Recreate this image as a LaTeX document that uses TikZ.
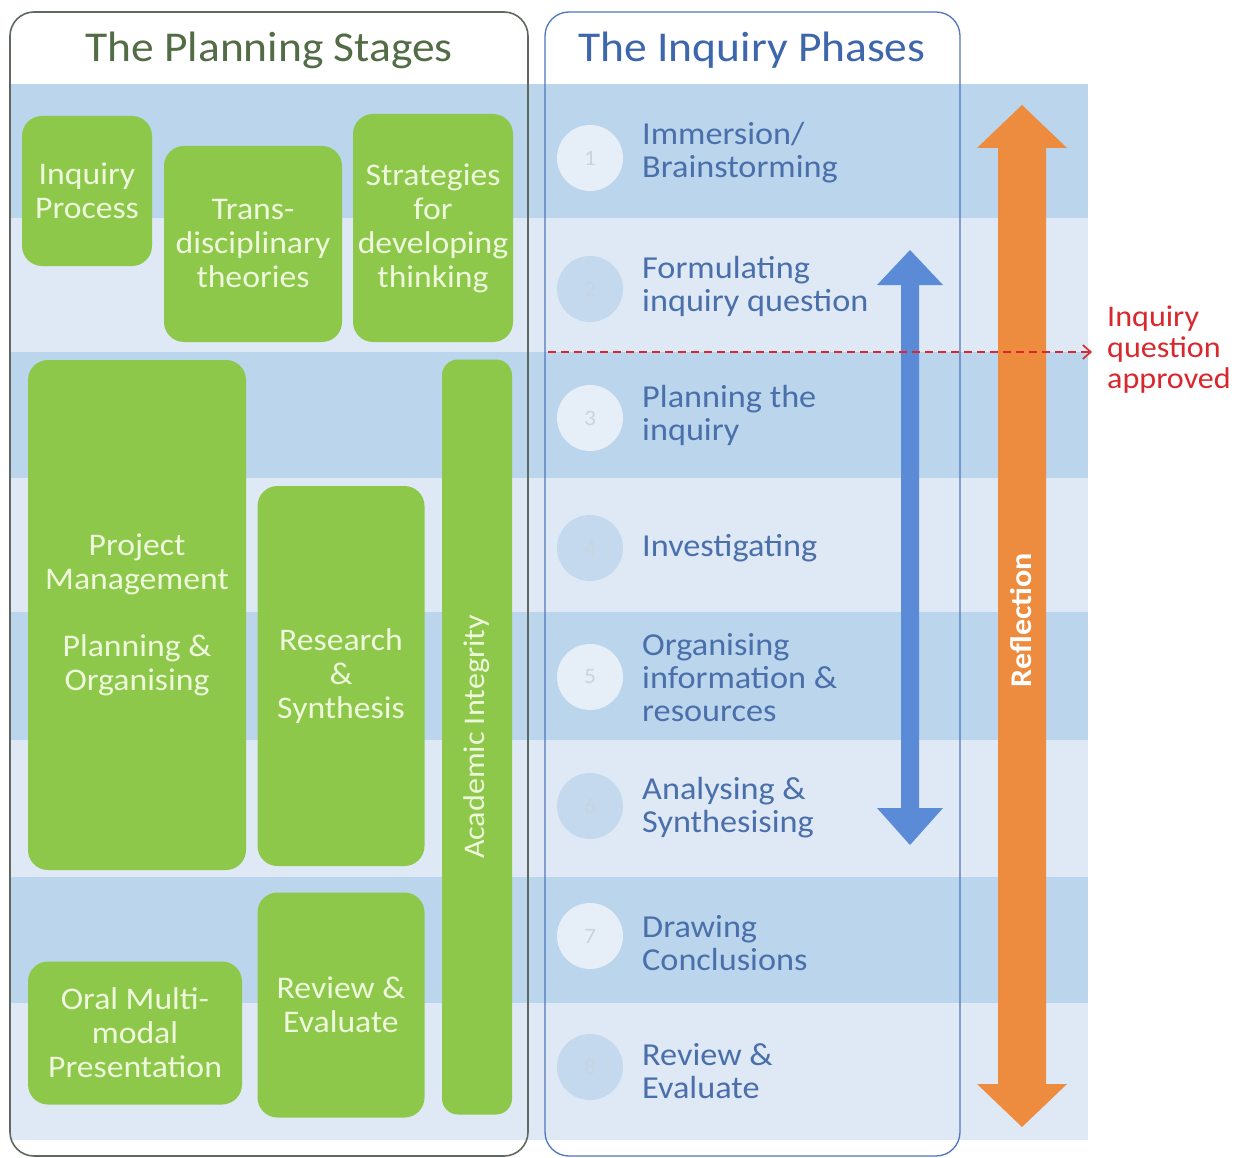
\documentclass[tikz,border=0pt]{standalone}
\usepackage{fontspec}
\setmainfont{Carlito}[FakeStretch=1.07]
\usetikzlibrary{arrows.meta}
\definecolor{gfill}{RGB}{141,200,74}
\definecolor{gtext}{RGB}{238,248,220}
\definecolor{banddark}{RGB}{186,213,236}
\definecolor{bandlight}{RGB}{222,233,245}
\definecolor{phasetext}{RGB}{74,111,170}
\definecolor{titleg}{RGB}{82,108,70}
\definecolor{titleb}{RGB}{62,102,172}
\definecolor{borderg}{RGB}{95,105,95}
\definecolor{borderb}{RGB}{80,118,186}
\definecolor{circlight}{RGB}{230,238,247}
\definecolor{circdark}{RGB}{196,217,238}
\definecolor{numtext}{RGB}{200,212,224}
\definecolor{arrowblue}{RGB}{91,139,214}
\definecolor{arroworange}{RGB}{237,139,63}
\definecolor{redline}{RGB}{217,39,46}
\tikzset{
  gbox/.style={fill=gfill, rounded corners=20pt, align=center, text=gtext,
    font=\fontsize{31.5}{34}\selectfont, inner sep=0pt},
  phase/.style={anchor=west, align=left, text=phasetext,
    font=\fontsize{32}{33}\selectfont, inner sep=0pt},
  numcirc/.style={circle, minimum size=66pt, inner sep=0pt, text=numtext,
    font=\fontsize{22}{24}\selectfont},
  panel/.style={rounded corners=24pt, line width=1.6pt},
}
\begin{document}
\begin{tikzpicture}[x=1pt,y=-1pt]
\useasboundingbox (0,0) rectangle (1241,1158);
\fill[white] (0,0) rectangle (1241,1158);
% bands
\fill[banddark]  (10,84)   rectangle (1088,218);
\fill[bandlight] (10,218)  rectangle (1088,352);
\fill[banddark]  (10,352)  rectangle (1088,478);
\fill[bandlight] (10,478)  rectangle (1088,612);
\fill[banddark]  (10,612)  rectangle (1088,740);
\fill[bandlight] (10,740)  rectangle (1088,877);
\fill[banddark]  (10,877)  rectangle (1088,1003);
\fill[bandlight] (10,1003) rectangle (1088,1140);
% panels
\draw[panel, borderg] (10,12) rectangle (528,1156);
\draw[panel, borderb, line width=1.3pt] (545,12) rectangle (960,1156);
\node[text=titleg, font=\fontsize{42.5}{46}\selectfont] (tleft) at (269,50) {The Planning Stages};
\node[text=titleb, font=\fontsize{42.5}{46}\selectfont] (tright) at (752,50) {The Inquiry Phases};
% green boxes
\node[gbox, minimum width=130pt, minimum height=150pt] (ip) at (87,191) {Inquiry\\Process};
\node[gbox, minimum width=178pt, minimum height=196pt] (td) at (253,244) {Trans-\\disciplinary\\theories};
\node[gbox, minimum width=160pt, minimum height=228pt] (sd) at (433,228) {Strategies\\for\\developing\\thinking};
\node[gbox, minimum width=218pt, minimum height=510pt] (pm) at (137,615) {Project\\Management\\[33pt]Planning \&\\Organising};
\node[gbox, minimum width=167pt, minimum height=380pt] (rs) at (341,676) {Research\\\&\\Synthesis};
\node[gbox, minimum width=70pt, minimum height=755pt, rounded corners=16pt] (ai) at (477,737) {};
\node[rotate=90, text=gtext, font=\fontsize{30}{32}\selectfont] (ait) at (ai.center) {Academic Integrity};
\node[gbox, minimum width=214pt, minimum height=143pt] (om) at (135,1033) {Oral Multi-\\modal\\Presentation};
\node[gbox, minimum width=167pt, minimum height=225pt] (re) at (341,1005) {Review \&\\Evaluate};
% circles
\node[numcirc, fill=circlight] (c1) at (590,158)  {1};
\node[numcirc, fill=circdark]  (c2) at (590,289)  {2};
\node[numcirc, fill=circlight] (c3) at (590,418)  {3};
\node[numcirc, fill=circdark]  (c4) at (590,548)  {4};
\node[numcirc, fill=circlight] (c5) at (590,677)  {5};
\node[numcirc, fill=circdark]  (c6) at (590,806)  {6};
\node[numcirc, fill=circlight] (c7) at (590,936)  {7};
\node[numcirc, fill=circdark]  (c8) at (590,1067) {8};
% phase texts
\node[phase] (p1) at (642,153)  {Immersion/\\Brainstorming};
\node[phase] (p2) at (642,286)  {Formulating\\inquiry question};
\node[phase] (p3) at (642,415)  {Planning the\\inquiry};
\node[phase] (p4) at (642,548)  {Investigating};
\node[phase] (p5) at (642,678)  {Organising\\information \&\\resources};
\node[phase] (p6) at (642,808)  {Analysing \&\\Synthesising};
\node[phase] (p7) at (642,943)  {Drawing\\Conclusions};
\node[phase] (p8) at (642,1071) {Review \&\\Evaluate};
% blue double arrow
\fill[arrowblue] (910,250) -- (943,285) -- (919,285) -- (919,808) -- (943,808)
  -- (910,845) -- (877,808) -- (901,808) -- (901,285) -- (877,285) -- cycle;
% orange double arrow
\fill[arroworange] (1022,105) -- (1067,148) -- (1046,148) -- (1046,1084) -- (1067,1084)
  -- (1022,1127) -- (977,1084) -- (998,1084) -- (998,148) -- (977,148) -- cycle;
\node[rotate=90, text=white, font=\bfseries\fontsize{30}{32}\selectfont] (refl) at (1021,620) {Reflection};
% inquiry question approved
\node[anchor=west, align=left, text=redline, font=\fontsize{30}{31}\selectfont, inner sep=0pt]
  (appr) at (1107,350) {Inquiry\\question\\approved};
\coordinate (dstart) at (548,352);
\coordinate (dend) at (1092,352);
\draw[redline, line width=1.6pt, dash pattern=on 8pt off 5pt,
  -{Straight Barb[length=8pt,width=14pt,line width=1.6pt]}] (dstart) -- (dend);
\end{tikzpicture}
\end{document}
